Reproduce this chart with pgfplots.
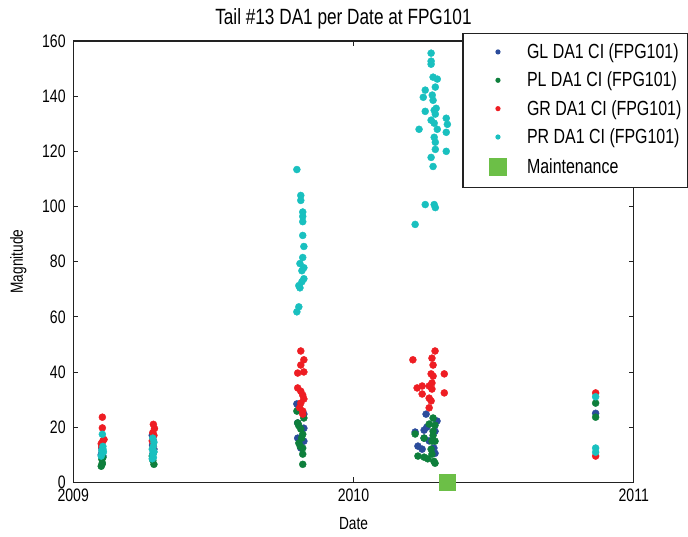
\documentclass[border=0pt]{standalone}
\usepackage{fontspec}
\setmainfont{Liberation Sans}[FakeStretch=0.78]
\usepackage{pgfplots}
\pgfplotsset{compat=1.18}

\definecolor{glc}{HTML}{2B4C9B}
\definecolor{plc}{HTML}{0E7F3C}
\definecolor{grc}{HTML}{EE1D23}
\definecolor{prc}{HTML}{19C0BF}
\definecolor{maint}{HTML}{6CBF47}
\definecolor{axc}{HTML}{222222}

\pgfplotsset{
  dotleg/.style={legend image code/.code={%
      \path[draw=none,fill=none] (0pt,0pt) -- (58pt,0pt);
      \fill[#1,draw=none] (31pt,0pt) circle (2.6pt);}},
}

\begin{document}
\begin{tikzpicture}
\begin{axis}[
    scale only axis,
    width=559pt, height=440pt,
    xmin=2009, xmax=2011, ymin=0, ymax=160,
    xtick={2009,2010,2011}, xticklabels={2009,2010,2011},
    ytick={0,20,...,160},
    tick align=inside, major tick length=5pt,
    axis line style={axc, line width=1.3pt},
    every tick/.style={axc, line width=0.8pt},
    /pgf/number format/assume math mode=true,
    tick label style={font=\fontsize{18}{20}\selectfont},
    yticklabel style={xshift=-4pt},
    xticklabel style={yshift=-3.5pt},
    xlabel={Date}, ylabel={Magnitude},
    xlabel style={at={(axis description cs:0.5,-0.093)}, anchor=center, font=\fontsize{17.5}{19}\selectfont},
    ylabel style={at={(axis description cs:-0.098,0.5)}, anchor=center, font=\fontsize{17.5}{19}\selectfont},
    title={Tail \#13 DA1 per Date at FPG101},
    title style={at={(axis description cs:0.5,1.036)}, anchor=center, xshift=-10pt, font=\fontsize{22}{24}\selectfont},
    clip=false,
    legend cell align=left,
    legend style={at={(axis description cs:0.694,1.018)}, anchor=north west,
        draw=axc, line width=1.3pt, fill=white, row sep=8pt,
        font=\fontsize{20.4}{22}\selectfont, inner xsep=4pt, inner ysep=8pt},
    extra description/.code={
        \path (axis description cs:-0.1306,0.5);
        \path (axis description cs:0.5,1.093);
        \path (axis description cs:0.5,-0.1227);
    },
]
% GL
\addplot[only marks, mark=*, mark size=3.5pt, color=glc, dotleg=glc]
coordinates {
(2009.102,12.4) (2009.104,11) (2009.100,10) (2009.106,9.5)
(2009.282,17) (2009.286,15) (2009.283,13.5) (2009.288,12) (2009.285,10.5)
(2009.798,28.4) (2009.823,24.7) (2009.801,21.5) (2009.823,19.6) (2009.801,16) (2009.823,14.9) (2009.812,12.4) (2009.806,27)
(2010.259,24.7) (2010.298,22.2) (2010.220,18.2) (2010.252,18.9) (2010.291,18.5) (2010.230,13.1) (2010.287,12.4) (2010.291,10.5) (2010.252,16) (2010.262,20) (2010.270,15) (2010.245,12)
(2010.864,25)
};
\addlegendentry{GL DA1 CI (FPG101)}
% PL
\addplot[only marks, mark=*, mark size=3.5pt, color=plc, dotleg=plc]
coordinates {
(2009.102,8.4) (2009.104,7) (2009.100,5.8) (2009.106,9) (2009.103,6.5)
(2009.288,6.5) (2009.284,8) (2009.282,9.5) (2009.287,11)
(2009.798,25.8) (2009.823,23.3) (2009.801,21.5) (2009.812,19.3) (2009.819,17.4) (2009.805,14.2) (2009.819,12.4) (2009.819,10.2) (2009.819,6.5) (2009.805,20.5) (2009.815,16) (2009.810,13)
(2010.284,23.3) (2010.291,20.7) (2010.284,18.5) (2010.252,16) (2010.280,14.9) (2010.291,14.9) (2010.230,9.5) (2010.252,9.1) (2010.280,10.2) (2010.287,7.6) (2010.291,6.9) (2010.220,17.5) (2010.270,21.1) (2010.277,12) (2010.265,8.5) (2010.284,17)
(2010.864,28.7) (2010.864,23.6)
};
\addlegendentry{PL DA1 CI (FPG101)}
% GR
\addplot[only marks, mark=*, mark size=3.5pt, color=grc, dotleg=grc]
coordinates {
(2009.104,23.6) (2009.104,19.7) (2009.106,15) (2009.100,14) (2009.110,15.5) (2009.102,13) (2009.104,11.5)
(2009.286,21) (2009.290,19.5) (2009.284,18) (2009.288,17) (2009.282,15) (2009.286,13)
(2009.812,47.6) (2009.823,44.4) (2009.812,42.5) (2009.801,39.6) (2009.823,40) (2009.801,34.2) (2009.812,33) (2009.819,31.6) (2009.823,30.2) (2009.812,28.7) (2009.808,27) (2009.819,25.8) (2009.819,24.7)
(2010.291,47.6) (2010.212,44.4) (2010.280,45) (2010.284,42.5) (2010.277,39.3) (2010.324,39.3) (2010.284,38.5) (2010.280,36) (2010.227,34.2) (2010.245,34.9) (2010.270,34.9) (2010.280,33.8) (2010.324,32.4) (2010.245,32) (2010.270,30.5) (2010.277,29.5) (2010.270,27)
(2010.864,32.4) (2010.864,9.5)
};
\addlegendentry{GR DA1 CI (FPG101)}
% PR
\addplot[only marks, mark=*, mark size=3.5pt, color=prc, dotleg=prc]
coordinates {
(2009.104,17.4) (2009.106,13) (2009.102,11.5) (2009.104,10.5) (2009.100,9.5) (2009.106,12) (2009.108,11)
(2009.284,16) (2009.288,14.5) (2009.286,13) (2009.282,12) (2009.288,11) (2009.284,10) (2009.286,9) (2009.282,8.5)
(2009.798,113.4) (2009.812,104) (2009.812,102.2) (2009.819,98) (2009.819,96.4) (2009.819,94.5) (2009.819,89.5) (2009.823,85.5) (2009.819,81.5) (2009.809,79.3) (2009.823,77.8) (2009.816,76.7) (2009.823,73.8) (2009.816,72.7) (2009.805,71.3) (2009.809,70.5) (2009.805,63.6) (2009.798,61.8)
(2010.277,155.6) (2010.277,152.7) (2010.277,151.6) (2010.284,146.9) (2010.299,146.2) (2010.256,142.2) (2010.292,143.3) (2010.249,139.6) (2010.281,140.4) (2010.284,138.5) (2010.256,134.5) (2010.288,134.9) (2010.295,135.6) (2010.292,133.5) (2010.331,132) (2010.335,129.8) (2010.234,128) (2010.277,131.3) (2010.288,130.2) (2010.299,128) (2010.288,125.1) (2010.331,126.9) (2010.292,123.3) (2010.331,120) (2010.292,120.7) (2010.277,117.8) (2010.284,114.5) (2010.256,100.7) (2010.288,100.7) (2010.292,99.6) (2010.220,93.5)
(2010.864,31) (2010.864,12.4) (2010.864,10.9)
};
\addlegendentry{PR DA1 CI (FPG101)}
% Maintenance
\addplot[only marks, mark=square*, mark size=8pt, color=maint,
    legend image code/.code={%
      \path[draw=none,fill=none] (0pt,-12pt) -- (58pt,12pt);
      \fill[maint,draw=none] (22pt,-9pt) rectangle (40pt,9pt);}]
coordinates {(2010.335,0)};
\addlegendentry{Maintenance}
\end{axis}
\end{tikzpicture}
\end{document}
